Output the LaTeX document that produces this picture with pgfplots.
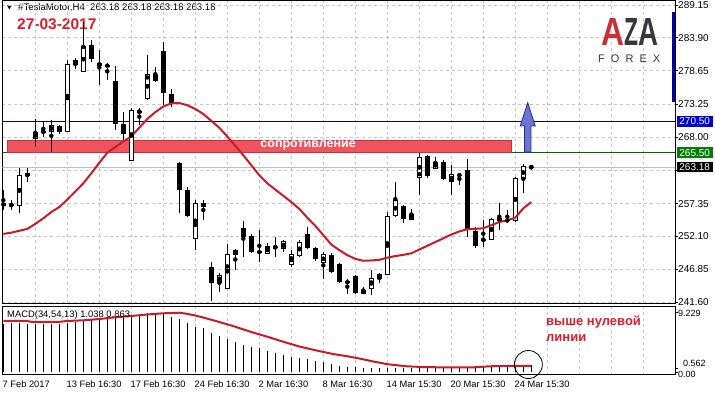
\documentclass[border=0pt]{standalone}
\usepackage{fontspec}
\setmainfont{Liberation Sans}
\newfontfamily\dejavu{DejaVu Sans}
\usepackage{graphicx}
\usepackage{pgfplots}
\usepackage{pgfplotstable}
\pgfplotsset{compat=1.18}

\definecolor{gridc}{RGB}{198,198,198}
\definecolor{maRed}{RGB}{204,27,38}
\definecolor{bandFill}{RGB}{240,84,94}
\definecolor{bandEdge}{RGB}{200,50,60}
\definecolor{navyLine}{RGB}{0,0,128}
\definecolor{greenLine}{RGB}{0,100,0}
\definecolor{bidGrey}{RGB}{192,192,192}
\definecolor{arrowFill}{RGB}{108,115,214}
\definecolor{arrowEdge}{RGB}{40,45,140}
\definecolor{boxBlue}{RGB}{0,0,210}
\definecolor{boxGreen}{RGB}{0,128,0}
\definecolor{dateRed}{RGB}{222,28,44}
\definecolor{logoRed}{RGB}{200,50,55}
\definecolor{logoDark}{RGB}{55,55,60}
\definecolor{scaleBlue}{RGB}{0,0,170}

\pgfplotstableread{
i o h l c
1 257.10 257.90 256.30 257.15
2 257.02 263.10 255.80 261.93
4 267.75 270.90 266.46 268.77
5 268.80 270.58 268.06 268.90
6 268.87 270.74 265.66 269.89
8 268.87 280.35 268.80 279.65
9 279.65 280.60 278.85 280.24
10 278.47 286.50 278.40 282.47
16 264.33 272.60 264.30 272.18
17 272.05 272.60 269.94 272.10
18 274.21 281.15 273.94 278.05
24 251.80 257.93 249.93 257.40
27 244.75 246.19 243.15 245.87
28 243.79 250.88 243.70 249.24
29 249.15 250.10 246.72 249.82
33 249.39 250.99 249.29 250.46
34 250.30 251.95 248.86 250.40
35 250.19 251.53 249.66 251.26
36 247.53 249.93 247.26 249.13
37 248.97 251.53 248.75 251.15
40 247.90 249.66 245.28 249.13
45 242.99 244.06 242.83 243.47
46 243.79 246.73 242.72 245.39
47 245.39 246.19 244.70 246.03
48 246.03 256.06 245.92 255.26
49 255.37 260.87 255.26 257.83
51 254.84 256.49 254.73 255.64
52 261.56 265.40 258.73 264.76
54 263.00 264.87 262.84 263.96
56 260.97 263.54 258.73 261.94
60 251.53 254.73 250.35 251.63
61 251.63 255.00 251.53 254.73
64 254.62 261.67 254.46 261.40
65 261.40 263.64 259.00 263.27
66 263.18 263.18 263.18 263.18
}\bull

\pgfplotstableread{
i o h l c
0 257.45 259.50 256.30 256.97
3 262.20 263.00 260.86 261.70
7 269.78 269.94 268.50 268.87
11 282.75 283.55 280.07 280.50
12 279.92 281.95 276.34 279.39
13 279.45 279.92 277.14 279.40
14 276.98 279.38 269.10 270.05
15 270.05 272.07 267.54 268.50
19 278.05 279.27 276.87 277.03
20 281.78 283.27 273.14 275.01
21 274.85 275.65 272.87 273.25
22 263.80 264.06 255.80 259.53
23 259.53 260.06 255.26 255.42
25 257.50 257.93 254.73 256.76
26 247.15 248.05 241.81 244.59
30 253.40 254.62 248.86 252.06
31 252.17 252.49 249.50 249.66
32 249.77 253.13 248.06 249.39
38 252.43 253.56 250.03 250.19
39 250.30 250.46 248.17 248.43
41 249.13 249.39 246.19 246.46
42 247.63 247.79 244.59 244.86
43 244.96 245.23 242.88 244.59
44 245.76 245.92 242.83 242.99
50 256.97 257.13 254.20 254.84
53 264.98 265.14 261.40 261.83
55 264.07 264.34 261.13 261.24
57 261.94 262.31 260.33 261.90
58 262.74 264.50 251.95 253.13
59 252.97 253.66 250.19 250.62
62 255.00 257.40 253.13 254.62
63 254.73 256.33 254.20 254.57
}\bear

\pgfplotstableread{
i ma
0 252.50
1 252.70
2 253.00
3 253.30
4 254.10
5 255.00
6 256.00
7 256.80
8 258.00
9 259.30
10 260.60
11 262.20
12 263.90
13 265.50
14 266.40
15 267.30
16 268.10
17 269.50
18 270.90
19 272.00
20 272.90
21 273.40
22 273.45
23 273.10
24 272.50
25 271.70
26 270.60
27 269.50
28 268.10
29 266.60
30 265.10
31 263.50
32 261.90
33 260.60
34 259.60
35 258.60
36 257.60
37 256.50
38 255.10
39 253.80
40 252.30
41 250.80
42 249.90
43 249.10
44 248.50
45 248.20
46 248.25
47 248.35
48 248.70
49 248.95
50 249.15
51 249.40
52 250.00
53 250.60
54 251.20
55 251.80
56 252.40
57 252.90
58 253.25
59 253.30
60 253.40
61 253.90
62 254.40
63 254.70
64 255.10
65 256.60
66 257.60
}\matab

\pgfplotstableread{
i v
0 7.45
1 7.49
2 7.49
3 7.38
4 7.38
5 7.38
6 7.40
7 7.45
8 7.59
9 7.74
10 7.90
11 8.10
12 8.26
13 8.41
14 8.51
15 8.62
16 8.77
17 8.87
18 9.00
19 9.05
20 9.03
21 8.51
22 8.15
23 7.49
24 6.97
25 6.72
26 5.95
27 5.54
28 5.03
29 4.57
30 4.15
31 3.89
32 3.65
33 3.28
34 2.88
35 2.62
36 2.35
37 2.20
38 2.00
39 1.69
40 1.49
41 1.18
42 0.97
43 0.82
44 0.70
45 0.62
46 0.57
47 0.55
48 0.55
49 0.58
50 0.60
51 0.62
52 0.66
53 0.70
54 0.72
55 0.74
56 0.76
57 0.78
58 0.80
59 0.82
60 0.86
61 0.90
62 0.95
63 0.99
64 1.02
65 1.04
66 1.038
}\macdhist

\pgfplotstableread{
i s
0 7.85
3 7.85
3.5 7.72
7 7.72
8 7.85
10 7.95
12 8.15
14 8.42
16 8.62
18 8.85
20 9.03
22 9.12
23 8.95
24.6 8.51
26.7 7.80
28.7 7.08
31 6.15
33 5.43
35 4.65
37.1 3.89
39 3.35
41.2 2.77
43 2.42
44.6 2.05
46.3 1.60
48 1.20
50.4 0.88
52.5 0.76
54.6 0.72
58.8 0.72
60.8 0.88
63.75 0.94
66 0.96
}\signal

\pgfplotsset{
  candlebase/.style={only marks, mark=none, forget plot,
    error bars/.cd, y dir=both, y explicit, error mark=none},
}

\begin{document}
\begin{tikzpicture}
\useasboundingbox (0,0) rectangle (715pt,396pt);

% header texts (drawn first, candles may cross them)
\node[inner sep=0] at (9.5pt,388pt) {\dejavu\fontsize{6}{7}\selectfont ▼};
\node[anchor=west, inner sep=0] at (18pt,388.5pt) {\fontsize{9.6}{10}\selectfont \#TeslaMotor,H4\ \ 263.18 263.18 263.18 263.18};
\node[anchor=west, inner sep=0, text=dateRed] at (17pt,372pt) {\fontsize{15.5}{17}\selectfont\bfseries 27-03-2017};

% ================= main price panel =================
\begin{axis}[
  at={(2.3pt,92.5pt)}, anchor=south west,
  width=672.7pt, height=303pt, scale only axis,
  xmin=-0.125, xmax=83.96, ymin=241.36, ymax=289.87,
  axis line style={line width=1pt, black},
  xtick={4,8,...,80}, xticklabels={}, xtick style={draw=none},
  xmajorgrids, ymajorgrids,
  major grid style={gridc, dash pattern=on 3pt off 3pt, line width=0.8pt},
  ytick={241.60,246.85,252.10,257.35,262.60,268.00,273.25,278.65,283.90,289.15},
  yticklabels={241.60,246.85,252.10,257.35,{},268.00,273.25,278.65,283.90,289.15},
  ytick pos=right, yticklabel pos=right,
  tick align=outside, major tick length=3pt,
  ytick style={black, line width=0.8pt},
  yticklabel style={font=\fontsize{10}{12}\selectfont, anchor=west, inner sep=0pt, xshift=0pt},
]
% horizontal lines
\addplot[bidGrey, line width=1pt, forget plot] coordinates {(-1,263.18) (90,263.18)};
\addplot[navyLine, line width=1pt, forget plot] coordinates {(-1,270.50) (90,270.50)};
\addplot[greenLine, line width=1pt, forget plot] coordinates {(-1,265.50) (90,265.50)};
% resistance band
\addplot[fill=bandFill, draw=bandEdge, line width=0.8pt, forget plot] coordinates {(0.5,265.57) (63.55,265.57) (63.55,267.54) (0.5,267.54)} --cycle;
\node[text=white, font=\fontsize{12.5}{14}\selectfont\bfseries, inner sep=0] at (axis cs:38.1,266.62) {сопротивление};

% wicks
\addplot[candlebase, error bar style={draw=black, line width=1pt, solid}]
  table[x=i, y expr={0.5*(\thisrow{h}+\thisrow{l})},
        y error plus expr={0.5*(\thisrow{h}-\thisrow{l})},
        y error minus expr={0.5*(\thisrow{h}-\thisrow{l})}] {\bull};
\addplot[candlebase, error bar style={draw=black, line width=1pt, solid}]
  table[x=i, y expr={0.5*(\thisrow{h}+\thisrow{l})},
        y error plus expr={0.5*(\thisrow{h}-\thisrow{l})},
        y error minus expr={0.5*(\thisrow{h}-\thisrow{l})}] {\bear};
% bear bodies
\addplot[candlebase, error bar style={draw=black, line width=5pt, line cap=butt, solid}]
  table[x=i, y expr={0.5*(\thisrow{o}+\thisrow{c})},
        y error plus expr={max(0.5*abs(\thisrow{o}-\thisrow{c}),0.08)},
        y error minus expr={max(0.5*abs(\thisrow{o}-\thisrow{c}),0.08)}] {\bear};
% bull bodies: outline then white fill
\addplot[candlebase, error bar style={draw=black, line width=5pt, line cap=butt, solid}]
  table[x=i, y expr={0.5*(\thisrow{o}+\thisrow{c})},
        y error plus expr={0.5*abs(\thisrow{o}-\thisrow{c})+0.08},
        y error minus expr={0.5*abs(\thisrow{o}-\thisrow{c})+0.08}] {\bull};
\addplot[candlebase, error bar style={draw=white, line width=3pt, line cap=butt, solid}]
  table[x=i, y expr={0.5*(\thisrow{o}+\thisrow{c})},
        y error plus expr={max(0.5*abs(\thisrow{o}-\thisrow{c})-0.08,0)},
        y error minus expr={max(0.5*abs(\thisrow{o}-\thisrow{c})-0.08,0)}] {\bull};

% moving average
\addplot[maRed, line width=2pt, forget plot] table[x=i, y=ma] {\matab};

% blue arrow
\addplot[fill=arrowFill, draw=arrowEdge, line width=0.8pt, forget plot] coordinates {
  (65.14,265.66) (65.96,265.66) (65.96,269.78) (66.49,269.78) (65.55,273.5) (64.61,269.78) (65.14,269.78)} --cycle;

% right scale bar
\addplot[scaleBlue, line width=3pt, forget plot] coordinates {(83.8,288.08) (83.8,273.67)};

\coordinate (p270) at (axis cs:83.96,270.50);
\coordinate (p265) at (axis cs:83.96,265.50);
\coordinate (p263) at (axis cs:83.96,263.18);
\end{axis}

% price boxes
\node[fill=boxBlue, text=white, inner sep=0pt, minimum width=36pt, minimum height=10.5pt, anchor=west, font=\fontsize{10}{12}\selectfont] at ([xshift=1.5pt]p270) {270.50};
\node[fill=boxGreen, text=white, inner sep=0pt, minimum width=36pt, minimum height=10.5pt, anchor=west, font=\fontsize{10}{12}\selectfont] at ([xshift=1.5pt]p265) {265.50};
\node[fill=black, text=white, inner sep=0pt, minimum width=36pt, minimum height=10.5pt, anchor=west, font=\fontsize{10}{12}\selectfont] at ([xshift=1.5pt]p263) {263.18};

% ================= MACD panel =================
\begin{axis}[
  at={(2.3pt,21pt)}, anchor=south west,
  width=672.7pt, height=68pt, scale only axis,
  xmin=-0.125, xmax=83.96, ymin=-0.4615, ymax=10,
  axis line style={line width=1pt, black},
  xtick={4,8,...,80}, xticklabels={}, xtick style={draw=none},
  xmajorgrids,
  major grid style={gridc, dash pattern=on 3pt off 3pt, line width=0.8pt},
  extra x ticks={0,8,...,64},
  extra x tick labels={7 Feb 2017,13 Feb 16:30,17 Feb 16:30,24 Feb 16:30,2 Mar 16:30,8 Mar 16:30,14 Mar 15:30,20 Mar 15:30,24 Mar 15:30},
  extra x tick style={grid=none},
  xticklabel style={font=\fontsize{9.3}{11}\selectfont, anchor=north west, inner sep=0pt, xshift=-0.8pt, yshift=-3pt},
  ytick={0,0.562,9.229}, yticklabels={{},{},9.229},
  ytick pos=right, yticklabel pos=right,
  tick align=outside, major tick length=3pt,
  ytick style={black, line width=0.8pt},
  yticklabel style={font=\fontsize{9}{10}\selectfont, anchor=west, inner sep=0pt, yshift=-1.5pt},
]
\addplot[ycomb, black, line width=1pt, mark=none, forget plot] table[x=i, y=v] {\macdhist};
\addplot[maRed, line width=2pt, forget plot] table[x=i, y=s] {\signal};
\node[anchor=west, inner sep=0, font=\fontsize{9.4}{10}\selectfont] at (rel axis cs:0.007,0.88) {MACD(34,54,13) 1.038 0.863};
\coordinate (circ) at (axis cs:65.63,1.15);
\coordinate (m0) at (axis cs:83.96,0);
\coordinate (m562) at (axis cs:83.96,0.562);
\end{axis}

\node[anchor=west, inner sep=0, font=\fontsize{9}{10}\selectfont] at ([xshift=8pt,yshift=4.5pt]m562) {0.562};
\node[anchor=west, inner sep=0, font=\fontsize{9}{10}\selectfont] at ([xshift=3pt,yshift=-2.5pt]m0) {0.00};

\draw[black, line width=0.8pt] (circ) circle[radius=14pt];

% annotation
\node[anchor=north west, inner sep=0, text=dateRed, align=left, font=\fontsize{13}{15.5}\selectfont\bfseries] at (546pt,80pt) {выше нулевой\\линии};

% logo
\node[anchor=south west, inner sep=0] at (601.5pt,350pt) {\resizebox{23pt}{27pt}{\bfseries\textcolor{logoRed}{A}}};
\node[anchor=south west, inner sep=0] at (624.5pt,350pt) {\resizebox{14pt}{27pt}{\bfseries\textcolor{logoDark}{Z}}};
\node[anchor=south west, inner sep=0] at (638.5pt,350pt) {\resizebox{20pt}{27pt}{\bfseries\textcolor{logoDark}{A}}};
\node[anchor=south west, inner sep=0, text=logoDark] at (598pt,333pt) {\fontsize{11}{12}\selectfont\hbox to 62pt{F\hfill O\hfill R\hfill E\hfill X}};
\end{tikzpicture}
\end{document}
